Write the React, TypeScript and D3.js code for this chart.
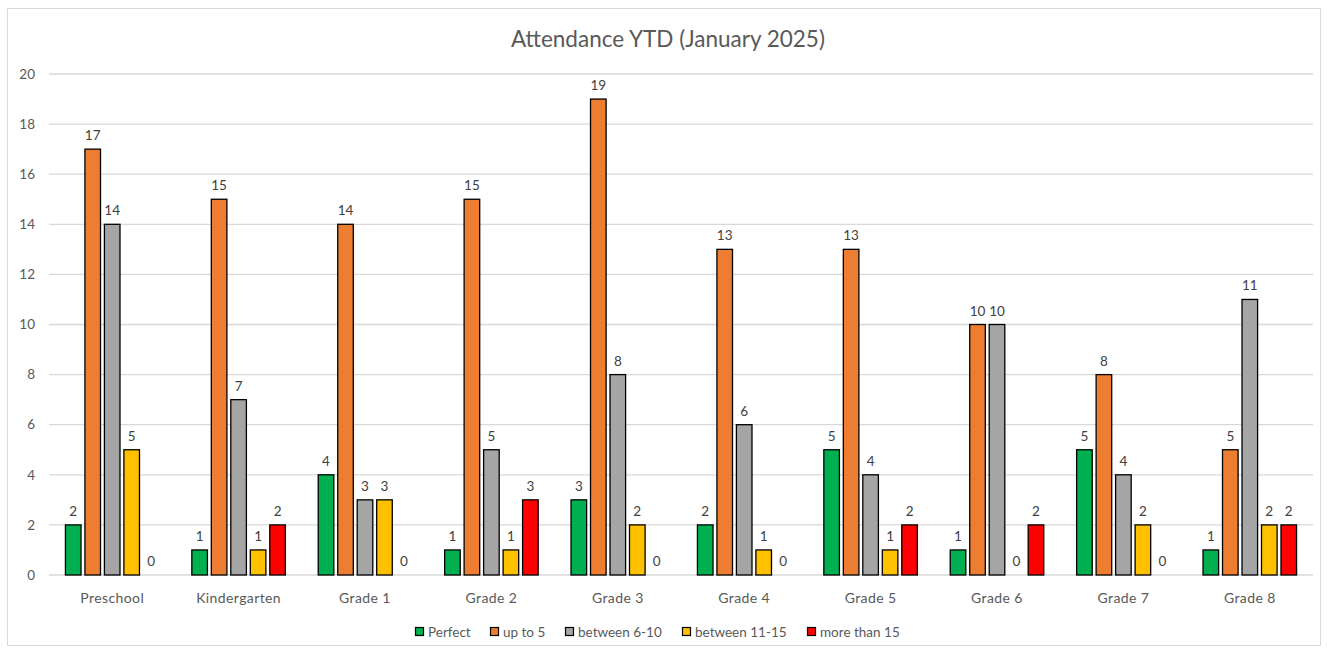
import React from "react";
import * as d3 from "d3";

const categories = ["Preschool", "Kindergarten", "Grade 1", "Grade 2", "Grade 3", "Grade 4", "Grade 5", "Grade 6", "Grade 7", "Grade 8"];
const seriesNames = ["Perfect", "up to 5", "between 6-10", "between 11-15", "more than 15"];
const seriesColors = ["#00b050", "#ed7d31", "#a5a5a5", "#ffc000", "#ff0000"];

const perfect = [2, 1, 4, 1, 3, 2, 5, 1, 5, 1];
const upTo5 = [17, 15, 14, 15, 19, 13, 13, 10, 8, 5];
const between6to10 = [14, 7, 3, 5, 8, 6, 4, 10, 4, 11];
const between11to15 = [5, 1, 3, 1, 2, 1, 1, 0, 2, 2];
const moreThan15 = [0, 2, 0, 3, 0, 0, 2, 2, 0, 2];

const yTicks = [0, 2, 4, 6, 8, 10, 12, 14, 16, 18, 20];

const W = 1328;
const H = 652;
const font = "Lato, 'Open Sans', sans-serif";

export default function App() {
  const series = [perfect, upTo5, between6to10, between11to15, moreThan15];
  const left = 49;
  const right = 1313;
  const top = 74;
  const bottom = 575;

  const x = d3.scaleBand<string>().domain(categories).range([left, right]).paddingInner(0.26).paddingOuter(0.13);
  const x1 = d3.scaleBand<number>().domain(d3.range(seriesNames.length)).range([0, x.bandwidth()]).paddingInner(0.2);
  const y = d3.scaleLinear().domain([0, 20]).range([bottom, top]);

  // legend layout
  const legendX = [415, 490, 565, 682, 807];

  return (
    <svg width={W} height={H} style={{ position: "absolute", left: 0, top: 0 }}>
      <rect x={0} y={0} width={W} height={H} fill="#fff" />
      <rect x={7.5} y={8.5} width={1313} height={637} fill="#fff" stroke="#d9d9d9" strokeWidth={1} />
      <text x={668} y={47} textAnchor="middle" fontFamily={font} fontSize={22.5} fill="#595959">
        Attendance YTD (January 2025)
      </text>
      {yTicks.map((t) => (
        <g key={t}>
          <line x1={left} x2={right} y1={y(t)} y2={y(t)} stroke="#d9d9d9" strokeWidth={1.3} />
          <text x={35} y={y(t)} dy="0.35em" textAnchor="end" fontFamily={font} fontSize={13.5} fill="#595959">
            {t}
          </text>
        </g>
      ))}
      {categories.map((c, ci) => (
        <g key={c} transform={`translate(${x(c)},0)`}>
          {series.map((s, si) => {
            const v = s[ci];
            const bx = x1(si)!;
            return (
              <g key={si}>
                {v > 0 && (
                  <rect
                    x={bx}
                    y={y(v)}
                    width={x1.bandwidth()}
                    height={y(0) - y(v)}
                    fill={seriesColors[si]}
                    stroke="#000"
                    strokeWidth={1.3}
                  />
                )}
                <text
                  x={bx + x1.bandwidth() / 2}
                  y={y(v) - 9}
                  textAnchor="middle"
                  fontFamily={font}
                  fontSize={13.5}
                  fill="#404040"
                >
                  {v}
                </text>
              </g>
            );
          })}
          <text
            x={x.bandwidth() / 2}
            y={598}
            dy="0.35em"
            textAnchor="middle"
            fontFamily={font}
            fontSize={14}
            letterSpacing={0.4}
            fill="#595959"
          >
            {c}
          </text>
        </g>
      ))}
      {seriesNames.map((n, i) => (
        <g key={n} transform={`translate(${legendX[i]},632)`}>
          <rect x={0.5} y={-4.5} width={8} height={8} fill={seriesColors[i]} stroke="#000" strokeWidth={1.2} />
          <text x={13} y={0} dy="0.35em" fontFamily={font} fontSize={13.5} fill="#595959">
            {n}
          </text>
        </g>
      ))}
    </svg>
  );
}
